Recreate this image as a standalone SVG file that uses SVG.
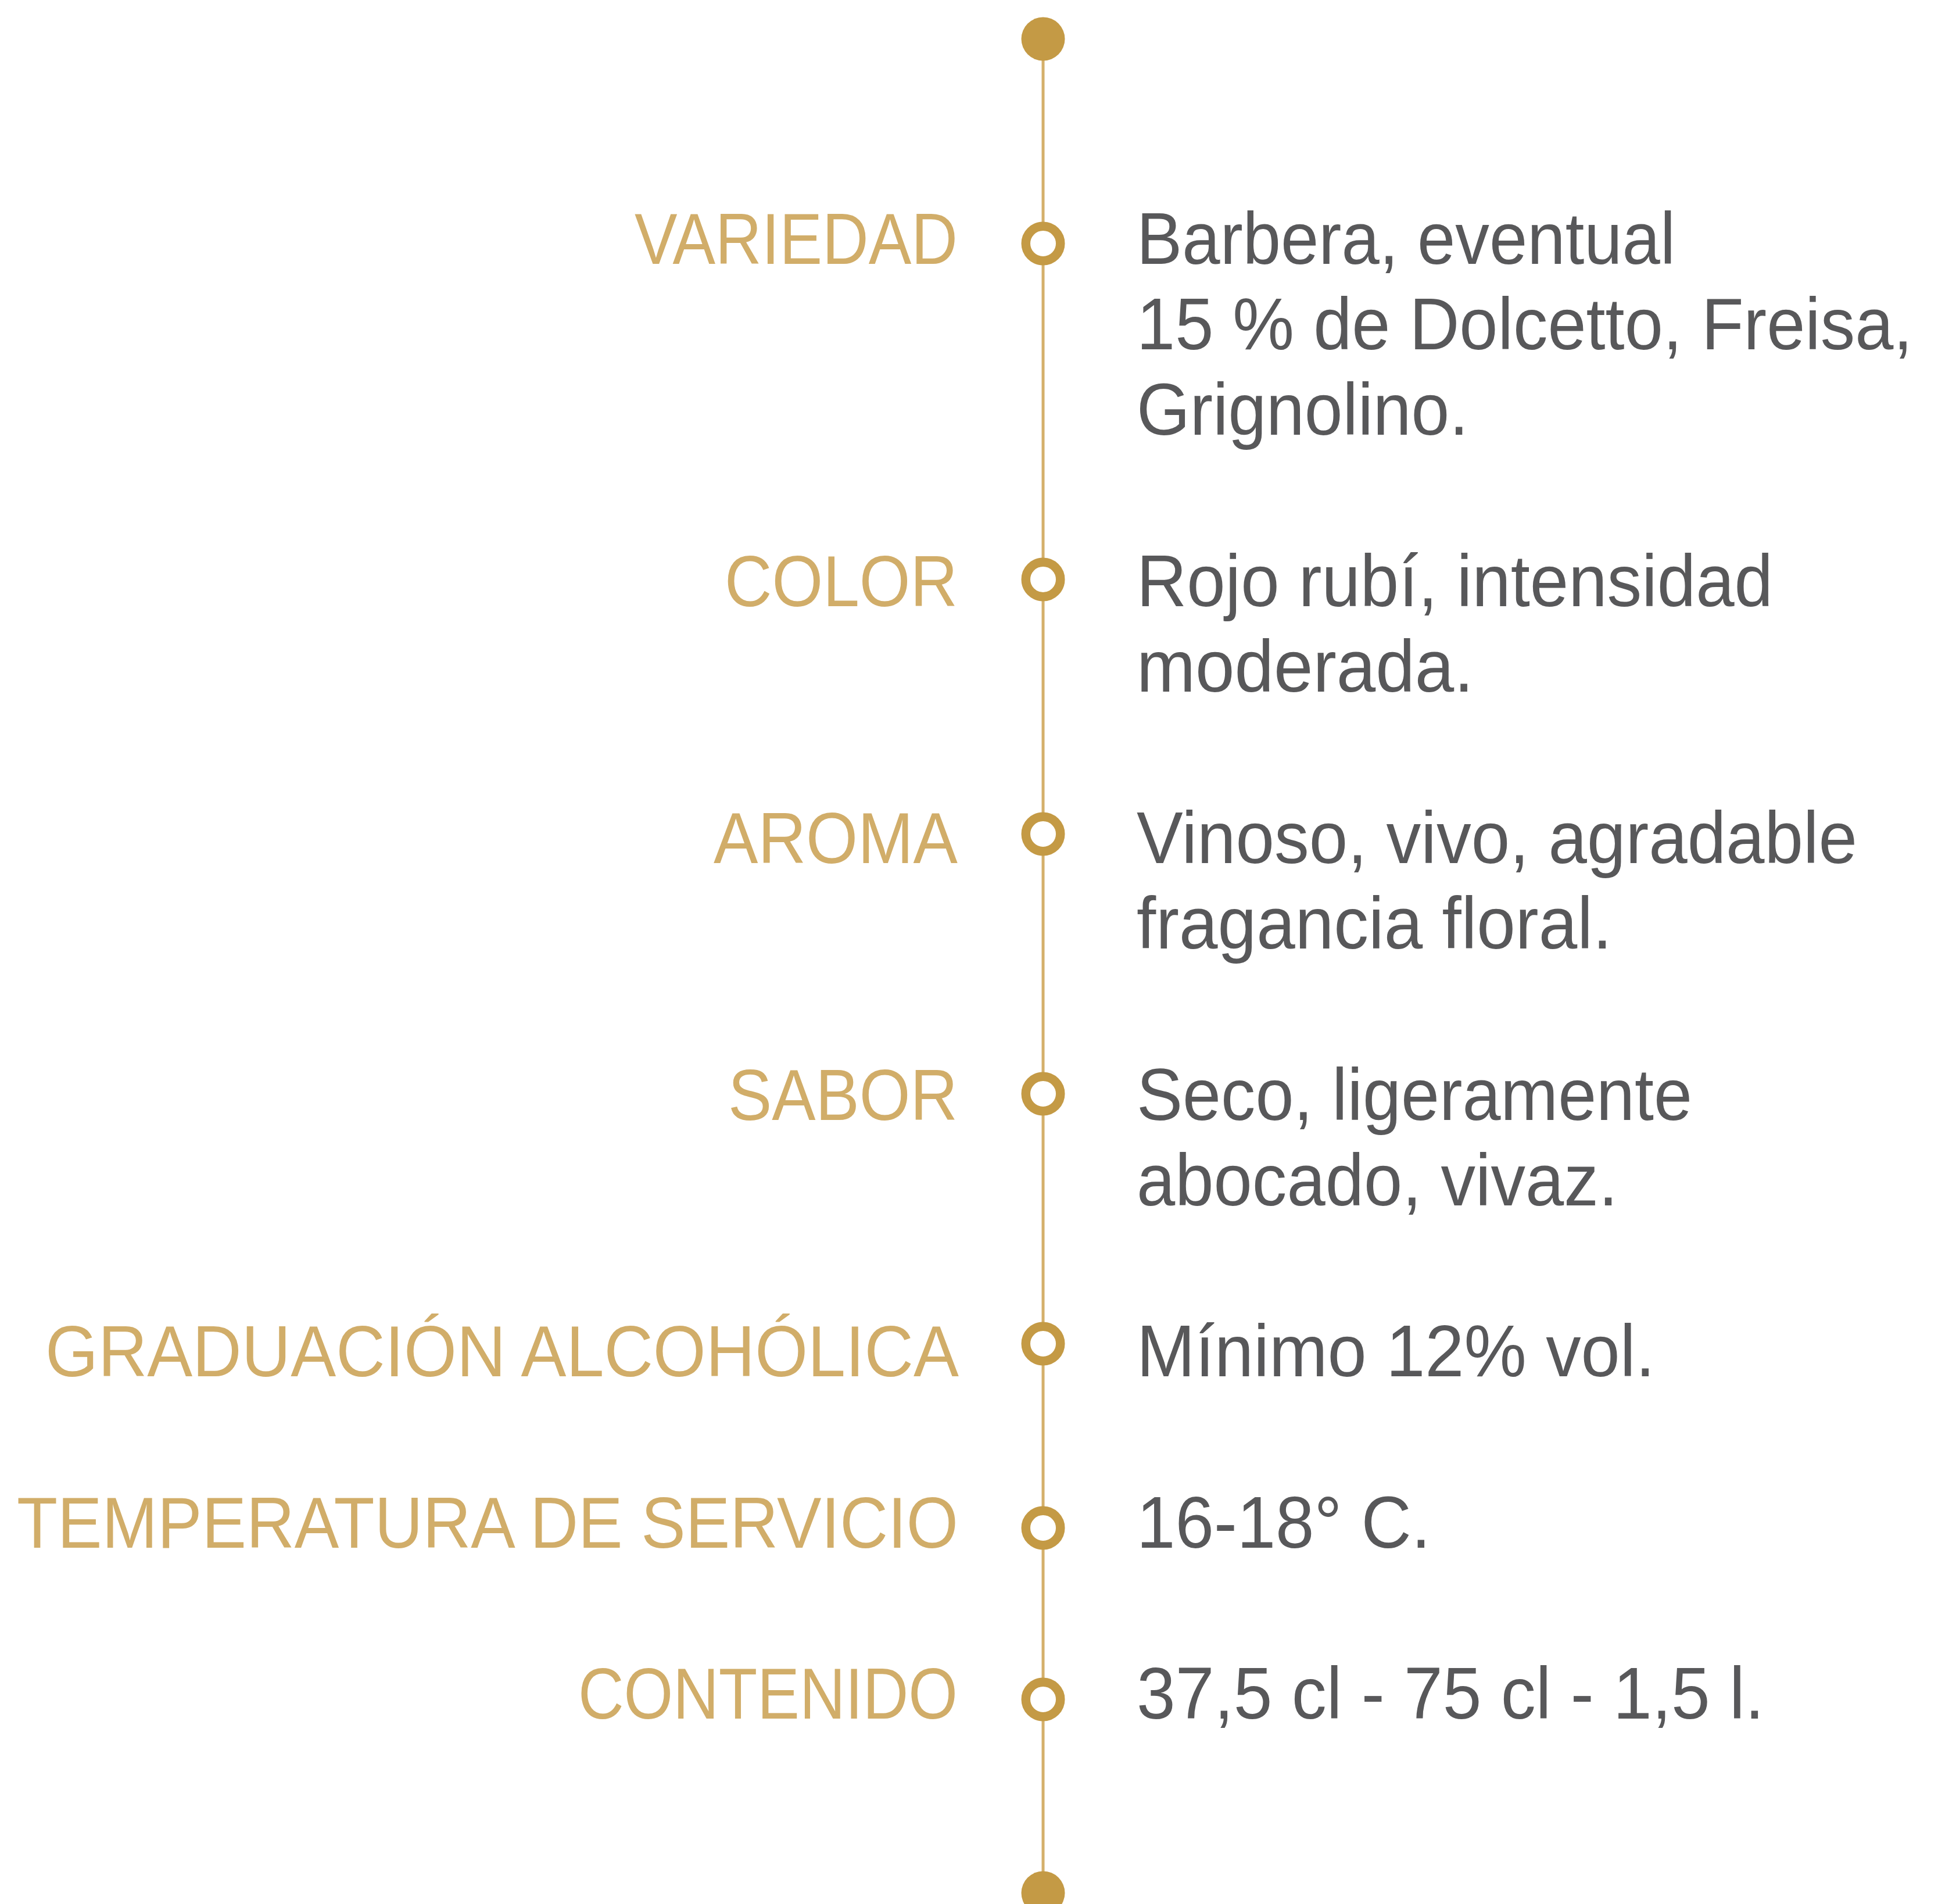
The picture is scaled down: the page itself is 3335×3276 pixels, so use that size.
<svg xmlns="http://www.w3.org/2000/svg" width="3335" height="3276" viewBox="0 0 3335 3276">
<style>
.lbl{font-family:"Liberation Sans",Arial,sans-serif;font-size:124px;fill:#d1ad69;text-anchor:end}
.val{font-family:"Liberation Sans",Arial,sans-serif;font-size:126px;fill:#58585a}
.ring{fill:#ffffff;stroke:#c49a45;stroke-width:15.5}
.dot{fill:#c49a45}
.axis{stroke:#d4b06b;stroke-width:5;fill:none}
</style>
<rect width="3335" height="3276" fill="#ffffff"/>
<g id="connectors">
<line class="axis" x1="1795" y1="67" x2="1795" y2="3257"/>
</g>
<g id="start"><circle class="dot" cx="1795" cy="67" r="37.5"/></g>
<g id="end"><circle class="dot" cx="1795" cy="3257" r="37.5"/></g>
<g id="variedad">
<circle class="ring" cx="1795" cy="419" r="29.75"/>
<text class="lbl" x="1648" y="454" textLength="556" lengthAdjust="spacingAndGlyphs">VARIEDAD</text>
<text class="val" x="1956" y="454" textLength="927" lengthAdjust="spacingAndGlyphs">Barbera, eventual</text>
<text class="val" x="0" y="0" transform="translate(1956,601) scale(0.944,1)">15 % de Dolcetto, Freisa,</text>
<text class="val" x="1956" y="748" textLength="571" lengthAdjust="spacingAndGlyphs">Grignolino.</text>
</g>
<g id="color">
<circle class="ring" cx="1795" cy="997" r="29.75"/>
<text class="lbl" x="1648" y="1043" textLength="401" lengthAdjust="spacingAndGlyphs">COLOR</text>
<text class="val" x="1956" y="1043" textLength="1095" lengthAdjust="spacingAndGlyphs">Rojo rubí, intensidad</text>
<text class="val" x="1956" y="1190" textLength="580" lengthAdjust="spacingAndGlyphs">moderada.</text>
</g>
<g id="aroma">
<circle class="ring" cx="1795" cy="1435" r="29.75"/>
<text class="lbl" x="1648" y="1485" textLength="420" lengthAdjust="spacingAndGlyphs">AROMA</text>
<text class="val" x="1956" y="1485" textLength="1240" lengthAdjust="spacingAndGlyphs">Vinoso, vivo, agradable</text>
<text class="val" x="1956" y="1632" textLength="818" lengthAdjust="spacingAndGlyphs">fragancia floral.</text>
</g>
<g id="sabor">
<circle class="ring" cx="1795" cy="1882" r="29.75"/>
<text class="lbl" x="1648" y="1927" textLength="395" lengthAdjust="spacingAndGlyphs">SABOR</text>
<text class="val" x="1956" y="1927" textLength="956" lengthAdjust="spacingAndGlyphs">Seco, ligeramente</text>
<text class="val" x="1956" y="2074" textLength="828" lengthAdjust="spacingAndGlyphs">abocado, vivaz.</text>
</g>
<g id="graduacion">
<circle class="ring" cx="1795" cy="2312" r="29.75"/>
<text class="lbl" x="1650" y="2368" textLength="1572" lengthAdjust="spacingAndGlyphs">GRADUACIÓN ALCOHÓLICA</text>
<text class="val" x="1956" y="2368" textLength="892" lengthAdjust="spacingAndGlyphs">Mínimo 12% vol.</text>
</g>
<g id="temperatura">
<circle class="ring" cx="1795" cy="2629" r="29.75"/>
<text class="lbl" x="1649" y="2663" textLength="1620" lengthAdjust="spacingAndGlyphs">TEMPERATURA DE SERVICIO</text>
<text class="val" x="1956" y="2663" textLength="506" lengthAdjust="spacingAndGlyphs">16-18° C.</text>
</g>
<g id="contenido">
<circle class="ring" cx="1795" cy="2924" r="29.75"/>
<text class="lbl" x="1648" y="2957" textLength="653" lengthAdjust="spacingAndGlyphs">CONTENIDO</text>
<text class="val" x="1956" y="2957" textLength="1080" lengthAdjust="spacingAndGlyphs">37,5 cl - 75 cl - 1,5 l.</text>
</g>
</svg>
